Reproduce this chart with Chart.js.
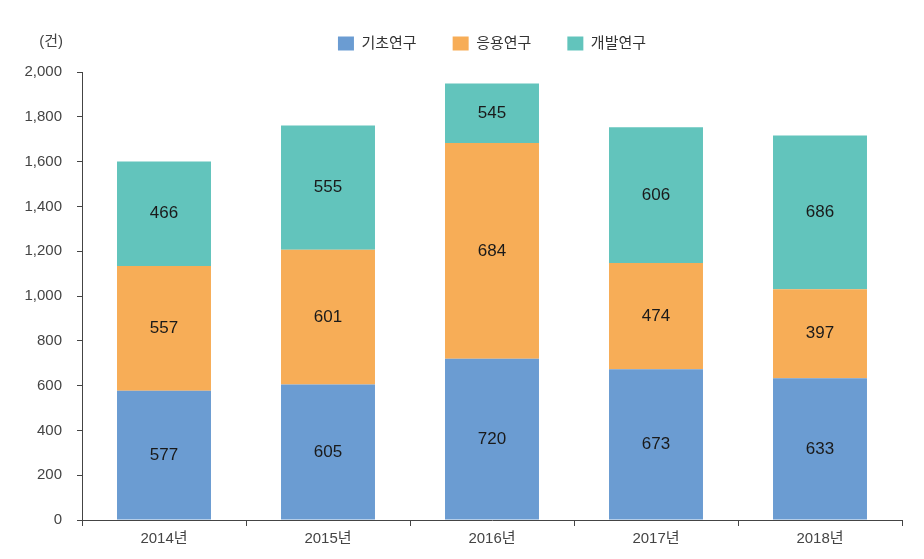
<!DOCTYPE html>
<html lang="ko">
<head>
<meta charset="UTF-8">
<title>연구개발 단계별 건수</title>
<script src="https://cdn.jsdelivr.net/npm/chart.js"></script>
<style>
  html, body { margin: 0; padding: 0; background: #fff; }
  #wrap { width: 924px; height: 559px; }
</style>
</head>
<body>
<div id="wrap"><canvas id="chart" width="924" height="559"></canvas></div>
<script>
  // 데이터
  const years = ['2014년', '2015년', '2016년', '2017년', '2018년'];
  // 막대 높이 (그림에서 읽은 값; 2016년 응용/개발 구간은 원본 그림에서 표시 숫자와 다르게 그려져 있음)
  const basic = [577, 605, 720, 673, 633];      // 기초연구
  const applied = [557, 601, 963, 474, 397];    // 응용연구
  const develop = [466, 555, 266, 606, 686];    // 개발연구
  // 막대 안에 표시된 숫자
  const basicText = [577, 605, 720, 673, 633];
  const appliedText = [557, 601, 684, 474, 397];
  const developText = [466, 555, 545, 606, 686];
  const unitLabel = '(건)';

  const FONT = '"Liberation Sans", "Noto Sans CJK KR", sans-serif';

  // 막대 안 숫자
  const valueLabels = {
    id: 'valueLabels',
    afterDatasetsDraw(chart) {
      const ctx = chart.ctx;
      ctx.save();
      ctx.font = '17px ' + FONT;
      ctx.fillStyle = '#1a1a1a';
      ctx.textAlign = 'center';
      ctx.textBaseline = 'middle';
      chart.data.datasets.forEach((ds, i) => {
        chart.getDatasetMeta(i).data.forEach((bar, j) => {
          const mid = (bar.y + bar.base) / 2;
          ctx.fillText(ds.texts[j], bar.x, mid);
        });
      });
      ctx.restore();
    }
  };

  // 단위 표시 + 범례 높이 고정
  const unitText = {
    id: 'unitText',
    beforeInit(chart) {
      const legend = chart.legend;
      const origFit = legend.fit;
      legend.fit = function () {
        origFit.call(this);
        this.height = 72;
      };
    },
    afterDraw(chart) {
      const ctx = chart.ctx;
      ctx.save();
      ctx.font = '15px ' + FONT;
      ctx.fillStyle = '#444';
      ctx.textAlign = 'right';
      ctx.textBaseline = 'middle';
      ctx.fillText(unitLabel, 63, 42);
      ctx.restore();
    }
  };

  new Chart(document.getElementById('chart'), {
    type: 'bar',
    data: {
      labels: years,
      datasets: [
        { label: '기초연구', data: basic, texts: basicText, backgroundColor: '#6b9cd2' },
        { label: '응용연구', data: applied, texts: appliedText, backgroundColor: '#f7ad57' },
        { label: '개발연구', data: develop, texts: developText, backgroundColor: '#62c4bc' }
      ]
    },
    options: {
      responsive: false,
      animation: false,
      layout: { padding: { top: 0, left: 0, right: 22, bottom: 0 } },
      datasets: { bar: { categoryPercentage: 1, barPercentage: 0.573 } },
      plugins: {
        tooltip: { enabled: false },
        legend: {
          position: 'top',
          fullSize: false,
          labels: {
            boxWidth: 16,
            boxHeight: 14,
            padding: 36,
            color: '#333',
            font: { size: 15, family: FONT }
          }
        }
      },
      scales: {
        x: {
          stacked: true,
          afterFit(scale) { scale.height = 39; },
          grid: { display: true, drawOnChartArea: false, drawTicks: true, tickLength: 6, color: '#444', offset: true },
          border: { display: true, color: '#444', width: 1 },
          ticks: { color: '#444', padding: 4, font: { size: 15, family: FONT } }
        },
        y: {
          stacked: true,
          min: 0,
          max: 2000,
          afterFit(scale) { scale.width = 82; },
          grid: { display: true, drawOnChartArea: false, drawTicks: true, tickLength: 5, color: '#444' },
          border: { display: true, color: '#444', width: 1 },
          ticks: {
            stepSize: 200,
            color: '#444',
            padding: 15,
            font: { size: 15, family: FONT },
            callback: v => v.toLocaleString('en-US')
          }
        }
      }
    },
    plugins: [valueLabels, unitText]
  });
</script>
</body>
</html>
